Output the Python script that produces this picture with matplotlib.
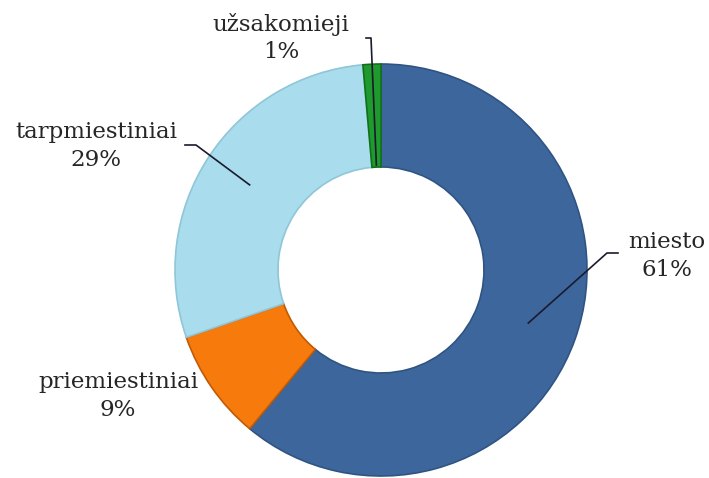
import numpy as np
import matplotlib.pyplot as plt

# Duomenys
labels = ['miesto', 'priemiestiniai', 'tarpmiestiniai', 'užsakomieji']
shares = [61.0, 8.7, 28.9, 1.4]
pct_labels = [61, 9, 29, 1]
colors = ['#3d679c', '#f77b0c', '#a9dcec', '#1f9a2c']
edge_colors = ['#2f5482', '#c25a05', '#8fc6d8', '#11701a']

fig = plt.figure(figsize=(7.09, 4.78), dpi=100)
ax = fig.add_axes([0, 0, 1, 1])

wedges, _ = ax.pie(shares, colors=colors, startangle=90, counterclock=False,
                   radius=1.0, wedgeprops=dict(width=0.5, linewidth=1.2))
for w, ec in zip(wedges, edge_colors):
    w.set_edgecolor(ec)

# padėtis pikseliais -> duomenys
cx, cy, rx, ry = 381, 270, 206, 206
ax.set_aspect('auto')
ax.set_xlim(-cx / rx, (709 - cx) / rx)
ax.set_ylim(-(478 - cy) / ry, cy / ry)
ax.axis('off')


def px(x, y):
    return (x - cx) / rx, (cy - y) / ry


# Etikečių pozicijos ir linijos
label_pos = {'miesto': (667, 256), 'priemiestiniai': (118, 396),
             'tarpmiestiniai': (96, 146), 'užsakomieji': (281, 38)}
anchor_r = {'miesto': 0.76, 'tarpmiestiniai': 0.76, 'užsakomieji': 0.51}
elbows = {'miesto': [(607, 253), (618, 253)],
          'tarpmiestiniai': [(196, 145), (185, 145)],
          'užsakomieji': [(371, 38), (366, 38)]}

for w, lab, val in zip(wedges, labels, pct_labels):
    tx, ty = px(*label_pos[lab])
    ax.text(tx, ty, f'{lab}\n{val}%', ha='center', va='center',
            fontsize=16.5, family='DejaVu Serif', color='#262626', linespacing=1.3)
    if lab in anchor_r:
        th = np.deg2rad((w.theta1 + w.theta2) / 2)
        r = anchor_r[lab]
        xs = [r * np.cos(th)] + [px(*p)[0] for p in elbows[lab]]
        ys = [r * np.sin(th)] + [px(*p)[1] for p in elbows[lab]]
        ax.plot(xs, ys, color='#1a1a2e', lw=1.2)

plt.savefig('out.png', dpi=100)
